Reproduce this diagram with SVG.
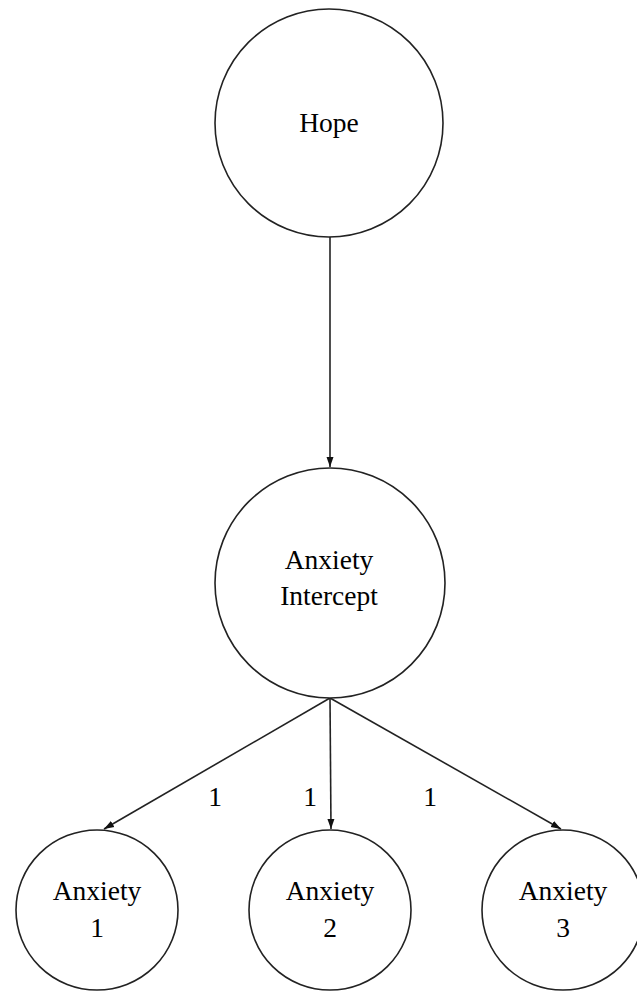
<svg xmlns="http://www.w3.org/2000/svg" width="637" height="991" viewBox="0 0 637 991">
<style>
.node{fill:#fff;stroke:#222;stroke-width:1.6}
.lbl{font-family:"Liberation Serif","Times New Roman",serif;font-size:27.5px;fill:#000;text-anchor:middle}
.edge{stroke:#222;stroke-width:1.6;fill:none;marker-end:url(#arr)}
</style>
<defs>
<marker id="arr" viewBox="0 0 10 10" refX="10" refY="5" markerWidth="10" markerHeight="10" markerUnits="userSpaceOnUse" orient="auto">
<path d="M0,1.5 L10,5 L0,8.5 z" fill="#111"/>
</marker>
</defs>
<g id="connectors">
<line class="edge" x1="330" y1="237" x2="330" y2="467"/>
<line class="edge" x1="330" y1="698" x2="104" y2="829"/>
<line class="edge" x1="330" y1="698" x2="331" y2="829"/>
<line class="edge" x1="330" y1="698" x2="561" y2="829"/>
<text class="lbl" x="215" y="806">1</text>
<text class="lbl" x="310" y="806">1</text>
<text class="lbl" x="430" y="806">1</text>
</g>
<g id="hope">
<circle class="node" cx="329" cy="123" r="114"/>
<text class="lbl" x="329" y="132">Hope</text>
</g>
<g id="intercept">
<circle class="node" cx="330" cy="583" r="115"/>
<text class="lbl" x="329" y="569">Anxiety</text>
<text class="lbl" x="329" y="605">Intercept</text>
</g>
<g id="anx1">
<ellipse class="node" cx="97" cy="910" rx="81" ry="80"/>
<text class="lbl" x="97" y="900">Anxiety</text>
<text class="lbl" x="97" y="937">1</text>
</g>
<g id="anx2">
<ellipse class="node" cx="330" cy="910" rx="81" ry="80"/>
<text class="lbl" x="330" y="900">Anxiety</text>
<text class="lbl" x="330" y="937">2</text>
</g>
<g id="anx3">
<ellipse class="node" cx="563" cy="910" rx="81" ry="80"/>
<text class="lbl" x="563" y="900">Anxiety</text>
<text class="lbl" x="563" y="937">3</text>
</g>
</svg>
